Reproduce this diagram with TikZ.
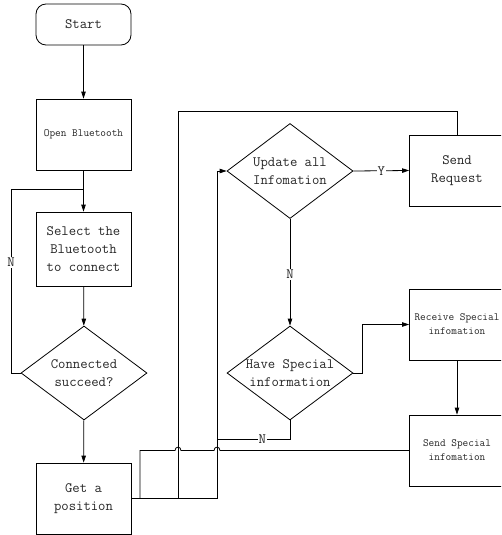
\documentclass[tikz,border=0pt]{standalone}
\usepackage{fontspec}
\usetikzlibrary{shapes.geometric,arrows.meta}

\begin{document}
\begin{tikzpicture}[x=1pt,y=-1pt,
  line width=0.8pt,
  big/.style={font=\ttfamily\fontsize{14.3}{18}\selectfont},
  small/.style={font=\ttfamily\fontsize{11}{14}\selectfont},
  box/.style={draw, rectangle, minimum width=95pt, minimum height=71pt,
              inner sep=0pt, text=black!85, align=center},
  decision/.style={draw, diamond, minimum width=126pt, minimum height=94pt,
                   inner sep=0pt},
  dtext/.style={big, text=black!85, align=center, inner sep=0pt},
  flow/.style={-{Triangle[length=7pt,width=4.5pt]}},
  tag/.style={big, text=black!85, fill=white, inner sep=1pt}]

\clip (0,0) rectangle (501,535);

% left column
\node[box, big, rounded corners=10pt, minimum height=41pt] (start) at (83.5,24.5) {Start};
\node[box, small] (open) at (83.5,134.5) {Open Bluetooth};
\node[box, big, minimum height=74pt] (select) at (83.5,249) {Select the\\Bluetooth\\to connect};
\node[decision] (conn) at (84,373) {};
\node[dtext] (conn-t) at (conn.center) {Connected\\succeed?};
\node[box, big] (getpos) at (83.5,498.5) {Get a\\position};

% middle column
\node[decision, minimum height=95pt] (upd) at (290,171) {};
\node[dtext] (upd-t) at (upd.center) {Update all\\Infomation};
\node[decision] (have) at (290,373) {};
\node[dtext] (have-t) at (have.center) {Have Special\\information};

% right column
\node[box, big] (req) at (457,170.5) {Send\\Request};
\node[box, small] (recv) at (457,324.5) {Receive Special\\infomation};
\node[box, small] (sspec) at (457,450.5) {Send Special\\infomation};

% routing points
\coordinate (split) at (83.5,189);
\coordinate (loopL) at (11,189);
\coordinate (g1) at (140,498.5);
\coordinate (g2) at (178,498.5);
\coordinate (g3) at (217,498.5);
\coordinate (top) at (178,111);
\coordinate (hv) at (362,373);
\coordinate (nb) at (290,439);
\coordinate (nj) at (217,439);

% left column flow
\draw[flow] (start) -- (open);
\draw[flow] (open) -- (select);
\draw[flow] (select) -- (conn);
\draw[flow] (conn) -- (getpos);
\draw (split) -- (loopL) |- (conn.west) node[tag, pos=0.2] (n1) {N};

% from the position box to the right-hand side
\draw (getpos.east) -- (g3);
\draw[flow] (g3) |- (upd.west);
\draw (g2) |- (top) -| (req.north);
\draw (sspec.west) -- (220,450.5) .. controls (220,446) and (214,446) .. (214,450.5)
      -- (181,450.5) .. controls (181,446) and (175,446) .. (175,450.5)
      -- (140,450.5) -- (g1);

% middle and right flow
\draw[flow] (upd.east) -- (req.west) node[tag, midway] (y1) {Y};
\draw[flow] (upd.south) -- (have.north) node[tag, pos=0.52] (n2) {N};
\draw[flow] (have.east) -- (hv) |- (recv.west);
\draw[flow] (recv) -- (sspec);
\draw (have.south) -- (nb) -- (nj) node[tag, pos=0.38] (n3) {N};

\end{tikzpicture}
\end{document}
